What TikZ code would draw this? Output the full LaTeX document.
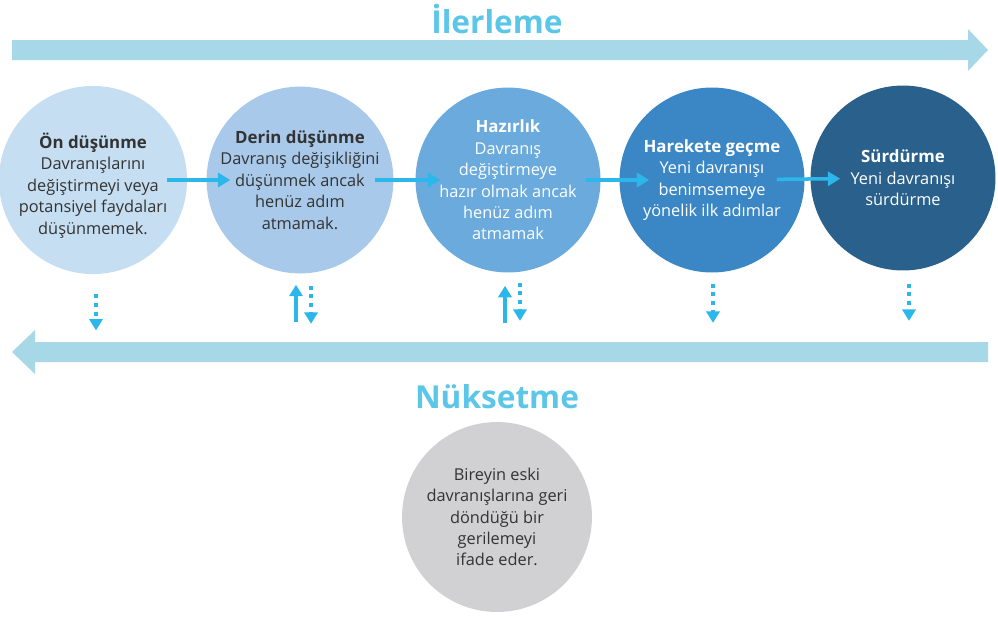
\documentclass[tikz,border=0pt]{standalone}
\usepackage{fontspec}
\setmainfont{Open Sans}
\usepackage{xcolor}
\usetikzlibrary{arrows.meta}
\definecolor{bandblue}{HTML}{A7D8E8}
\definecolor{headblue}{HTML}{5BC6E8}
\definecolor{linkblue}{HTML}{2BB7E9}
\definecolor{stageA}{HTML}{C6DEF1}
\definecolor{stageB}{HTML}{A8C9E9}
\definecolor{stageC}{HTML}{6AAADD}
\definecolor{stageD}{HTML}{3B87C6}
\definecolor{stageE}{HTML}{2A618C}
\definecolor{relapse}{HTML}{D1D1D3}
\definecolor{textgray}{HTML}{333333}
\newcommand{\stagetitle}[1]{{\fontsize{9.6}{12.2}\bfseries\selectfont #1}}
\tikzset{
	stage/.style={
			circle, minimum size=3.7cm, inner sep=0pt, align=center,
			font=\fontsize{9.3}{12.2}\selectfont, text=textgray
		},
	heading/.style={font=\fontsize{18}{20}\bfseries\selectfont, text=headblue},
	link/.style={-{Triangle[width=8pt,length=7pt]}, line width=2pt, linkblue},
	drop/.style={-{Triangle[width=7.5pt,length=6.5pt]}, line width=2.3pt, linkblue,
			dash pattern=on 2.3pt off 2.6pt},
	climb/.style={-{Triangle[width=7.5pt,length=6.5pt]}, line width=2pt, linkblue}
}

\begin{document}
\begin{tikzpicture}[x=0.02cm, y=-0.02cm]

	\useasboundingbox (0,0) rectangle (998,616);

	% Draw the two bands
	\fill[bandblue] (12,40) -- (968,40) -- (968,29) -- (988,50) -- (968,71) -- (968,60) -- (12,60) -- cycle;
	\fill[bandblue] (988,342) -- (35,342) -- (35,330) -- (12,352) -- (35,374) -- (35,362) -- (988,362) -- cycle;

	% Draw the headings
	\node[heading] (progress) at (497,19) {İlerleme};
	\node[heading] (relapseword) at (497,397) {Nüksetme};

	% Draw the stages
	\node[stage, fill=stageA] (s1) at (93,180) {\\[3pt]\stagetitle{Ön düşünme}\\Davranışlarını\\değiştirmeyi veya\\potansiyel faydaları\\düşünmemek.};
	\node[stage, fill=stageB] (s2) at (300,180) {\stagetitle{Derin düşünme}\\Davranış değişikliğini\\düşünmek ancak\\henüz adım\\atmamak.};
	\node[stage, fill=stageC, text=white] (s3) at (508,180) {\stagetitle{Hazırlık}\\Davranış\\değiştirmeye\\hazır olmak ancak\\henüz adım\\atmamak};
	\node[stage, fill=stageD, text=white] (s4) at (712,180) {\stagetitle{Harekete geçme}\\Yeni davranışı\\benimsemeye\\yönelik ilk adımlar};
	\node[stage, fill=stageE, text=white] (s5) at (903,178) {\stagetitle{Sürdürme}\\Yeni davranışı\\sürdürme};

	% Draw the relapse circle
	\node[stage, fill=relapse, minimum size=3.8cm] (back) at (497,517) {Bireyin eski\\davranışlarına geri\\döndüğü bir\\gerilemeyi\\ifade eder.};

	% Draw the links between stages
	\draw[link, shorten <=-20*0.02cm, shorten >=-24*0.02cm] (s1) -- (s2);
	\draw[link, shorten <=-19*0.02cm, shorten >=-25*0.02cm] (s2) -- (s3);
	\draw[link, shorten <=-15*0.02cm, shorten >=-30*0.02cm] (s3) -- (s4);
	\draw[link, shorten <=-28*0.02cm, shorten >=-30*0.02cm] (s4) -- (s5);

	% Draw the drops towards relapse
	\draw[drop] ([xshift=3*0.02cm, yshift=-20*0.02cm]s1.south) -- ++(0,36);
	\draw[drop] ([xshift=11*0.02cm, yshift=-12*0.02cm]s2.south) -- ++(0,38);
	\draw[drop] ([xshift=12*0.02cm, yshift=-10*0.02cm]s3.south) -- ++(0,38);
	\draw[drop] ([xshift=1*0.02cm, yshift=-11*0.02cm]s4.south) -- ++(0,39);
	\draw[drop] ([xshift=6*0.02cm, yshift=-13*0.02cm]s5.south) -- ++(0,37);

	% Draw the climbs back up
	\draw[climb] ([xshift=-4*0.02cm, yshift=-48*0.02cm]s2.south) -- ++(0,-37);
	\draw[climb] ([xshift=-3*0.02cm, yshift=-50*0.02cm]s3.south) -- ++(0,-37);

\end{tikzpicture}
\end{document}
